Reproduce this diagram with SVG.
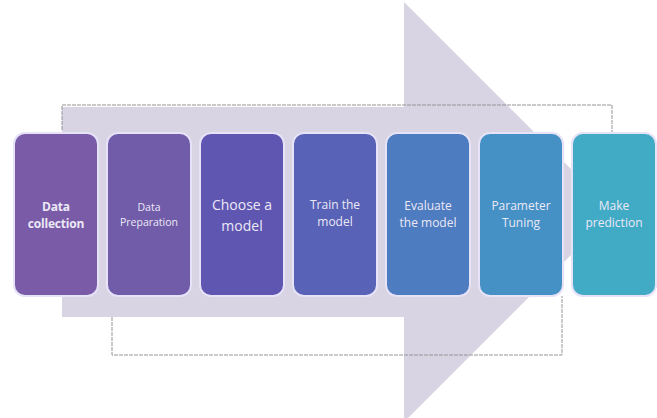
<svg xmlns="http://www.w3.org/2000/svg" width="657" height="418" viewBox="0 0 657 418">
<style>
.box{stroke:#e6e2f7;stroke-width:2}
.t{font-family:"Open Sans","Liberation Sans",sans-serif;fill:#ece9f7;text-anchor:middle}
.br{fill:none;stroke:#959595;stroke-width:1;stroke-dasharray:4 1}
</style>
<rect width="657" height="418" fill="#ffffff"/>
<g id="arrow">
<polygon points="62,107 404,107 404,2 614,212 404,422 404,317 62,317" fill="#d8d4e3"/>
</g>
<g id="connectors">
<polyline class="br" points="62,130 62,105 612,105 612,132"/>
<polyline class="br" points="112,317 112,355 562,355 562,296"/>
</g>
<g id="n1"><rect class="box" x="14" y="133" width="84" height="163" rx="11" fill="#7a5ba8"/>
<text class="t" x="56" y="211" font-size="12" font-weight="bold" letter-spacing="-0.2">Data</text>
<text class="t" x="56" y="228" font-size="12" font-weight="bold" letter-spacing="-0.2">collection</text></g>
<g id="n2"><rect class="box" x="107" y="133" width="84" height="163" rx="11" fill="#705ca9"/>
<text class="t" x="149" y="211" font-size="10.5">Data</text>
<text class="t" x="149" y="226" font-size="10.5">Preparation</text></g>
<g id="n3"><rect class="box" x="200" y="133" width="84" height="163" rx="11" fill="#5f56b1"/>
<text class="t" x="242" y="210" font-size="14">Choose a</text>
<text class="t" x="242" y="231" font-size="14">model</text></g>
<g id="n4"><rect class="box" x="293" y="133" width="84" height="163" rx="11" fill="#5862b6"/>
<text class="t" x="335" y="209" font-size="12">Train the</text>
<text class="t" x="335" y="226" font-size="12">model</text></g>
<g id="n5"><rect class="box" x="386" y="133" width="84" height="163" rx="11" fill="#4e7cc0"/>
<text class="t" x="428" y="210" font-size="12">Evaluate</text>
<text class="t" x="428" y="227" font-size="12">the model</text></g>
<g id="n6"><rect class="box" x="479" y="133" width="84" height="163" rx="11" fill="#4591c5"/>
<text class="t" x="521" y="210" font-size="12">Parameter</text>
<text class="t" x="521" y="227" font-size="12">Tuning</text></g>
<g id="n7"><rect class="box" x="572" y="133" width="84" height="163" rx="11" fill="#41aac5"/>
<text class="t" x="614" y="210" font-size="12">Make</text>
<text class="t" x="614" y="227" font-size="12">prediction</text></g>
</svg>
